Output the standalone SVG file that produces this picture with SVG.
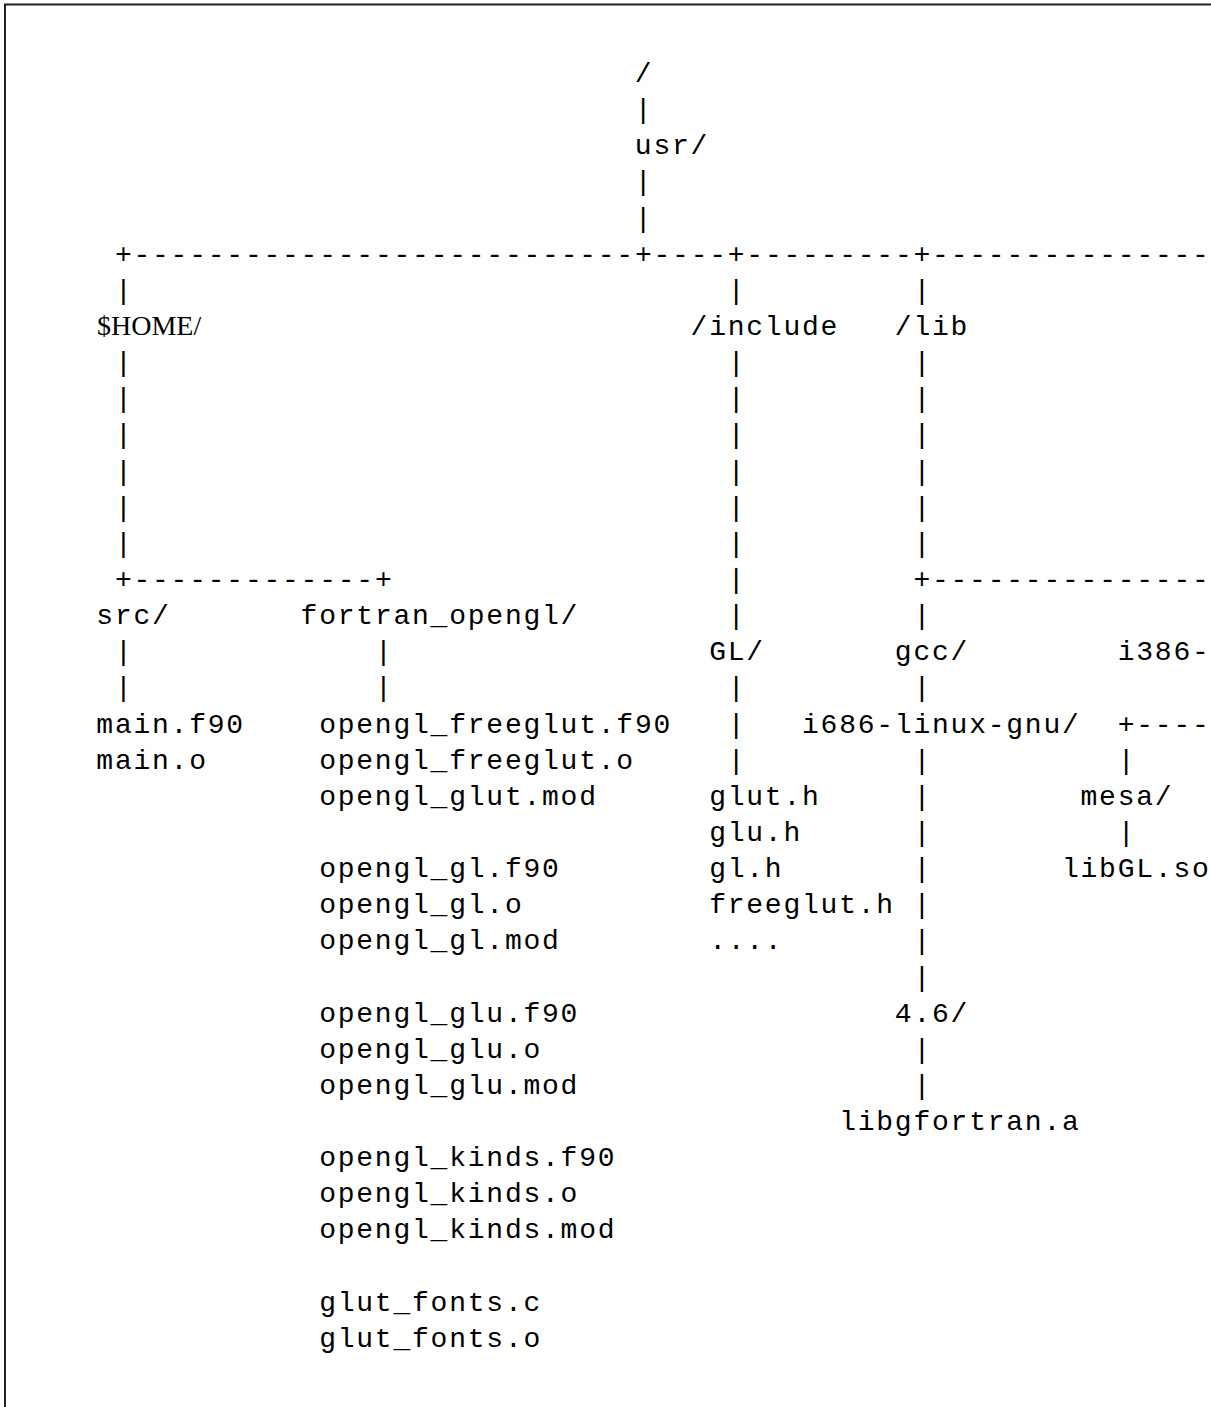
<svg xmlns="http://www.w3.org/2000/svg" width="1211" height="1407" viewBox="0 0 1211 1407">
<style>
.t{font-family:"Liberation Mono","DejaVu Sans Mono",monospace;font-size:28px;letter-spacing:1.77px;fill:#000}
.s{font-family:"Liberation Serif","DejaVu Serif",serif;font-size:28px;fill:#000}
.c{font-family:"Liberation Mono","DejaVu Sans Mono",monospace;font-size:28px;letter-spacing:1.77px;fill:#000}
</style>
<rect width="1211" height="1407" fill="#fff"/>
<path d="M5,1407 V4.5 H1211" fill="none" stroke="#222" stroke-width="2"/>

<g id="connectors">
<text class="c" x="634.86" y="118.14">|</text>
<text class="c" x="634.86" y="190.42">|</text>
<text class="c" x="634.86" y="226.56">|</text>
<text class="c" x="114.9" y="262.7">+---------------------------+----+---------+----------------</text>
<text class="c" x="114.9" y="298.84">|</text>
<text class="c" x="727.71" y="298.84">|</text>
<text class="c" x="913.41" y="298.84">|</text>
<g>
<text class="c" x="114.9" y="371.12">|</text><text class="c" x="727.71" y="371.12">|</text><text class="c" x="913.41" y="371.12">|</text>
<text class="c" x="114.9" y="407.26">|</text><text class="c" x="727.71" y="407.26">|</text><text class="c" x="913.41" y="407.26">|</text>
<text class="c" x="114.9" y="443.4">|</text><text class="c" x="727.71" y="443.4">|</text><text class="c" x="913.41" y="443.4">|</text>
<text class="c" x="114.9" y="479.54">|</text><text class="c" x="727.71" y="479.54">|</text><text class="c" x="913.41" y="479.54">|</text>
<text class="c" x="114.9" y="515.68">|</text><text class="c" x="727.71" y="515.68">|</text><text class="c" x="913.41" y="515.68">|</text>
<text class="c" x="114.9" y="551.82">|</text><text class="c" x="727.71" y="551.82">|</text><text class="c" x="913.41" y="551.82">|</text>
</g>
<text class="c" x="114.9" y="587.96">+-------------+</text>
<text class="c" x="727.71" y="587.96">|</text>
<text class="c" x="913.41" y="587.96">+----------------</text>
<text class="c" x="727.71" y="624.1">|</text>
<text class="c" x="913.41" y="624.1">|</text>
<text class="c" x="114.9" y="660.24">|</text>
<text class="c" x="374.88" y="660.24">|</text>
<text class="c" x="114.9" y="696.38">|</text>
<text class="c" x="374.88" y="696.38">|</text>
<text class="c" x="727.71" y="696.38">|</text>
<text class="c" x="913.41" y="696.38">|</text>
<text class="c" x="727.71" y="732.52">|</text>
<text class="c" x="1117.68" y="732.52">+-----</text>
<text class="c" x="727.71" y="768.66">|</text>
<text class="c" x="913.41" y="768.66">|</text>
<text class="c" x="1117.68" y="768.66">|</text>
<text class="c" x="913.41" y="804.8">|</text>
<text class="c" x="913.41" y="840.94">|</text>
<text class="c" x="1117.68" y="840.94">|</text>
<text class="c" x="913.41" y="877.08">|</text>
<text class="c" x="913.41" y="913.22">|</text>
<text class="c" x="913.41" y="949.36">|</text>
<text class="c" x="913.41" y="985.5">|</text>
<text class="c" x="913.41" y="1057.78">|</text>
<text class="c" x="913.41" y="1093.92">|</text>
</g>

<g id="n-root"><text class="t" x="634.86" y="82">/</text></g>
<g id="n-usr"><text class="t" x="634.86" y="154.28">usr/</text></g>
<g id="n-home"><text class="s" x="97" y="334.98">$HOME/</text></g>
<g id="n-include"><text class="t" x="690.57" y="334.98">/include</text></g>
<g id="n-lib"><text class="t" x="894.84" y="334.98">/lib</text></g>
<g id="n-src"><text class="t" x="96.33" y="624.1">src/</text></g>
<g id="n-fortran-opengl"><text class="t" x="300.6" y="624.1">fortran_opengl/</text></g>
<g id="n-GL"><text class="t" x="709.14" y="660.24">GL/</text></g>
<g id="n-gcc"><text class="t" x="894.84" y="660.24">gcc/</text></g>
<g id="n-i386"><text class="t" x="1117.68" y="660.24">i386-</text></g>
<g id="n-main-files">
<text class="t" x="96.33" y="732.52">main.f90</text>
<text class="t" x="96.33" y="768.66">main.o</text>
</g>
<g id="n-fortran-files">
<text class="t" x="319.17" y="732.52">opengl_freeglut.f90</text>
<text class="t" x="319.17" y="768.66">opengl_freeglut.o</text>
<text class="t" x="319.17" y="804.8">opengl_glut.mod</text>
<text class="t" x="319.17" y="877.08">opengl_gl.f90</text>
<text class="t" x="319.17" y="913.22">opengl_gl.o</text>
<text class="t" x="319.17" y="949.36">opengl_gl.mod</text>
<text class="t" x="319.17" y="1021.64">opengl_glu.f90</text>
<text class="t" x="319.17" y="1057.78">opengl_glu.o</text>
<text class="t" x="319.17" y="1093.92">opengl_glu.mod</text>
<text class="t" x="319.17" y="1166.2">opengl_kinds.f90</text>
<text class="t" x="319.17" y="1202.34">opengl_kinds.o</text>
<text class="t" x="319.17" y="1238.48">opengl_kinds.mod</text>
<text class="t" x="319.17" y="1310.76">glut_fonts.c</text>
<text class="t" x="319.17" y="1346.9">glut_fonts.o</text>
</g>
<g id="n-i686"><text class="t" x="801.99" y="732.52">i686-linux-gnu/</text></g>
<g id="n-headers">
<text class="t" x="709.14" y="804.8">glut.h</text>
<text class="t" x="709.14" y="840.94">glu.h</text>
<text class="t" x="709.14" y="877.08">gl.h</text>
<text class="t" x="709.14" y="913.22">freeglut.h</text>
<text class="t" x="709.14" y="949.36">....</text>
</g>
<g id="n-mesa"><text class="t" x="1080.54" y="804.8">mesa/</text></g>
<g id="n-libGL"><text class="t" x="1061.97" y="877.08">libGL.so</text></g>
<g id="n-46"><text class="t" x="894.84" y="1021.64">4.6/</text></g>
<g id="n-libgfortran"><text class="t" x="839.13" y="1130.06">libgfortran.a</text></g>
</svg>
